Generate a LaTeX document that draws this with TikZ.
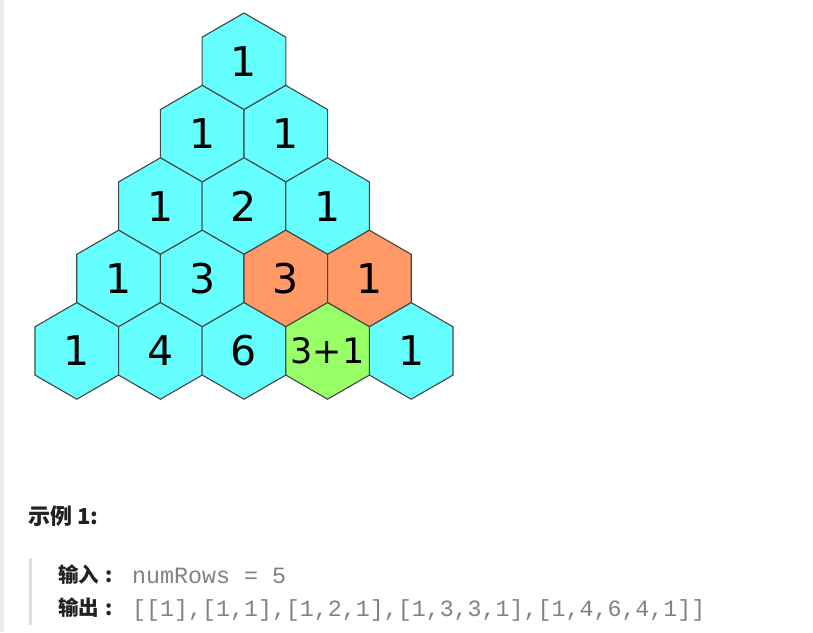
\documentclass[tikz,border=0pt]{standalone}
\usepackage{fontspec}
\setmainfont{DejaVu Sans}
\newfontfamily\cjk{Noto Sans CJK SC}
\newfontfamily\codefont{Liberation Mono}
\usetikzlibrary{shapes.geometric}
\definecolor{cellcyan}{RGB}{102,255,255}
\definecolor{cellorange}{RGB}{255,153,102}
\definecolor{cellgreen}{RGB}{153,255,102}
\definecolor{celledge}{RGB}{68,68,68}
\definecolor{codegray}{RGB}{130,130,130}
\definecolor{titleink}{RGB}{34,34,34}
\tikzset{
	cell/.style={regular polygon, regular polygon sides=6, shape border rotate=30,
		minimum size=96.6pt, inner sep=0pt, draw=celledge, line width=1.1pt,
		fill=cellcyan, font=\fontsize{41}{41}\selectfont},
	cjklabel/.style={anchor=base west, inner sep=0pt, text=titleink,
		font=\cjk\bfseries\fontsize{20.5}{21}\selectfont},
	codetext/.style={anchor=base west, inner sep=0pt, text=codegray,
		font=\codefont\fontsize{23.3}{24}\selectfont}
}
\begin{document}
\begin{tikzpicture}[x=1pt,y=-1pt]
			\useasboundingbox (0,0) rectangle (813,632);
			\fill[white] (0,0) rectangle (813,632);
			\fill[black!8] (0,0) rectangle (4,632);
			\fill[black!13] (28.5,558) rectangle (31.5,625);
			\foreach \c/\v in {1/1}{
				\node[cell] (h1\c) at ({244+(\c-1)*83.6}, 61.3) {\v};
			}
			\foreach \c/\v in {1/1,2/1}{
				\node[cell] (h2\c) at ({244+(\c-1.5)*83.6}, 133.7) {\v};
			}
			\foreach \c/\v in {1/1,2/2,3/1}{
				\node[cell] (h3\c) at ({244+(\c-2)*83.6}, 206.1) {\v};
			}
			\foreach \c/\v in {1/1,2/3}{
				\node[cell] (h4\c) at ({244+(\c-2.5)*83.6}, 278.5) {\v};
			}
			\foreach \c/\v in {3/3,4/1}{
				\node[cell, fill=cellorange] (h4\c) at ({244+(\c-2.5)*83.6}, 278.5) {\v};
			}
			\foreach \c/\v in {1/1,2/4,3/6,5/1}{
				\node[cell] (h5\c) at ({244+(\c-3)*83.6}, 350.9) {\v};
			}
			\node[cell, fill=cellgreen, font=\fontsize{35}{35}\selectfont] (h54) at ({244+83.6}, 350.9) {\makebox[0pt]{3+1}};
			\node[cjklabel, font=\cjk\bfseries\fontsize{22}{23}\selectfont] (example) at (28,524.5) {示例 1:};
			\node[cjklabel] (inlabel) at (58,582.5) {输入\makebox[1em]{:}};
			\node[codetext] (invalue) at (132,583.3) {numRows = 5};
			\node[cjklabel] (outlabel) at (58,615.5) {输出\makebox[1em]{:}};
			\node[codetext] (outvalue) at (132,616) {[[1],[1,1],[1,2,1],[1,3,3,1],[1,4,6,4,1]]};
		\end{tikzpicture}
\end{document}
